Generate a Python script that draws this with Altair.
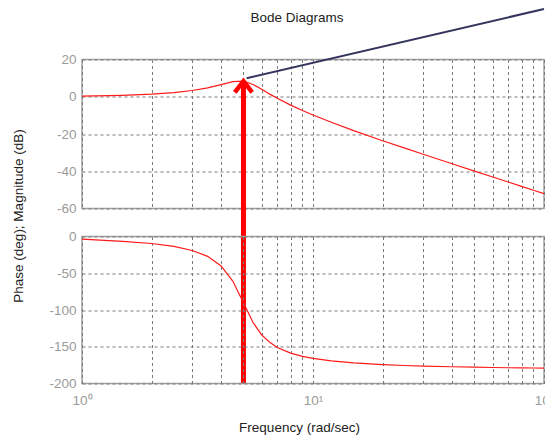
import altair as alt
import pandas as pd

# ---- data ----
freq = [1, 1.5, 2, 2.5, 3, 3.5, 4, 4.5, 5, 5.5, 6, 6.5, 7, 8, 9, 10,
        12, 15, 20, 25, 30, 40, 50, 60, 70, 80, 90, 100]
mag_db = [0.3, 0.75, 1.4, 2.2, 3.35, 4.8, 6.5, 8.1, 8.4, 6.6, 4.0, 1.4, -0.8,
          -4.5, -7.4, -9.8, -13.7, -18.2, -23.6, -27.6, -30.9, -36.0, -39.9,
          -43.1, -45.8, -48.1, -50.2, -52.0]
phase_deg = [-3.5, -6.5, -9.5, -13.5, -19, -27, -40, -61, -90, -117, -134,
             -144, -151, -158.7, -163, -165.8, -169.2, -171.9, -174.2, -175.5,
             -176.3, -177.2, -177.8, -178.2, -178.6, -178.8, -178.9, -179.0]

peak_freq = [5]
peak_db = [8.4]

pointer_freq = [5.16, 100]
pointer_db = [9.96, 47.1]

x_grid = [1, 2, 3, 4, 5, 6, 7, 8, 9, 10, 20, 30, 40, 50, 60, 70, 80, 90, 100]
mag_ticks = [-60, -40, -20, 0, 20]
phase_ticks = [-200, -150, -100, -50, 0]

title_text = ["Bode Diagrams"]
x_title = "Frequency  (rad/sec)"
y_title = "Phase (deg); Magnitude (dB)"

# ---- tables ----
mag_df = pd.DataFrame({"f": freq, "v": mag_db})
phase_df = pd.DataFrame({"f": freq, "v": phase_deg})
peak_df = pd.DataFrame({"f": peak_freq, "v": peak_db})
pointer_df = pd.DataFrame({"f": pointer_freq, "v": pointer_db})
title_df = pd.DataFrame({"t": title_text})

FONT = "Liberation Sans"
GRAY = "#9a9a9a"
W = 462

xscale = alt.Scale(type="log", domain=[1, 100], nice=False)
top_yscale = alt.Scale(domain=[-60, 20], nice=False, zero=False)

x_top_axis = alt.Axis(values=x_grid, labels=False, ticks=False,
                      domain=False, title=None)
y_top_axis = alt.Axis(values=mag_ticks, ticks=False, domain=False,
                      title=None, labelPadding=6, labelExpr="datum.value + ''")


def xt():
    return alt.X("f:Q", scale=xscale, axis=x_top_axis)


def yt():
    return alt.Y("v:Q", scale=top_yscale, axis=y_top_axis)


mag_line = alt.Chart(mag_df).mark_line(color="#ff1a1a", strokeWidth=1.2).encode(
    x=xt(), y=yt())

arrow_shaft = alt.Chart(peak_df).mark_rule(color="#ff0000", strokeWidth=5).encode(
    x=xt(), y=yt(), y2=alt.value(324))

arrow_head = alt.Chart(peak_df).mark_point(
    shape="M -1 1.3 L 0 0 L 1 1.3", size=300, filled=False,
    color="#ff0000", strokeWidth=4.5, opacity=1, strokeJoin="miter",
    strokeCap="butt").encode(x=xt(), y=yt())

pointer = alt.Chart(pointer_df).mark_line(color="#34345e", strokeWidth=2).encode(
    x=xt(), y=yt())

title_mark = alt.Chart(title_df).mark_text(
    fontSize=13.5, font=FONT, color="#222222", align="center",
    baseline="middle").encode(text="t:N", x=alt.value(215), y=alt.value(-42))

top = alt.layer(mag_line, pointer, arrow_shaft, arrow_head, title_mark).properties(
    width=W, height=149)

x_bot = alt.X("f:Q", scale=xscale,
              axis=alt.Axis(values=x_grid, ticks=False, domain=False,
                            labelExpr="datum.value == 1 ? '10⁰' : datum.value == 10 ? '10¹' : datum.value == 100 ? '10²' : ''",
                            labelPadding=10, title=x_title, titlePadding=13,
                            titleX=217, titleAlign="center",
                            labelFlush=False))
y_bot = alt.Y("v:Q", scale=alt.Scale(domain=[-200, 0], nice=False, zero=False),
              axis=alt.Axis(values=phase_ticks, ticks=False, domain=False,
                            labelPadding=6, title=y_title,
                            labelExpr="datum.value + ''",
                            titleX=-64, titleY=-21, titleAngle=270,
                            titleAlign="center", titleBaseline="middle"))

phase_line = alt.Chart(phase_df).mark_line(color="#ff1a1a", strokeWidth=1.2).encode(
    x=x_bot, y=y_bot)

bottom = phase_line.properties(width=W, height=147)

chart = alt.vconcat(top, bottom, spacing=28, bounds="flush").properties(
    padding={"left": 2, "top": -4.5, "right": -10, "bottom": 0},
).configure(font=FONT).configure_view(
    stroke="#a0a0a0", strokeWidth=1.5
).configure_axis(
    gridColor="#7a7a7a", gridDash=[3, 3], gridWidth=1, gridOpacity=1,
    labelColor=GRAY, labelFontSize=13.5, labelFont=FONT,
    titleColor="#222222", titleFontSize=13.5, titleFontWeight="normal",
    titleFont=FONT
)

chart.save("out.html", embed_options={"renderer": "svg", "actions": False})
